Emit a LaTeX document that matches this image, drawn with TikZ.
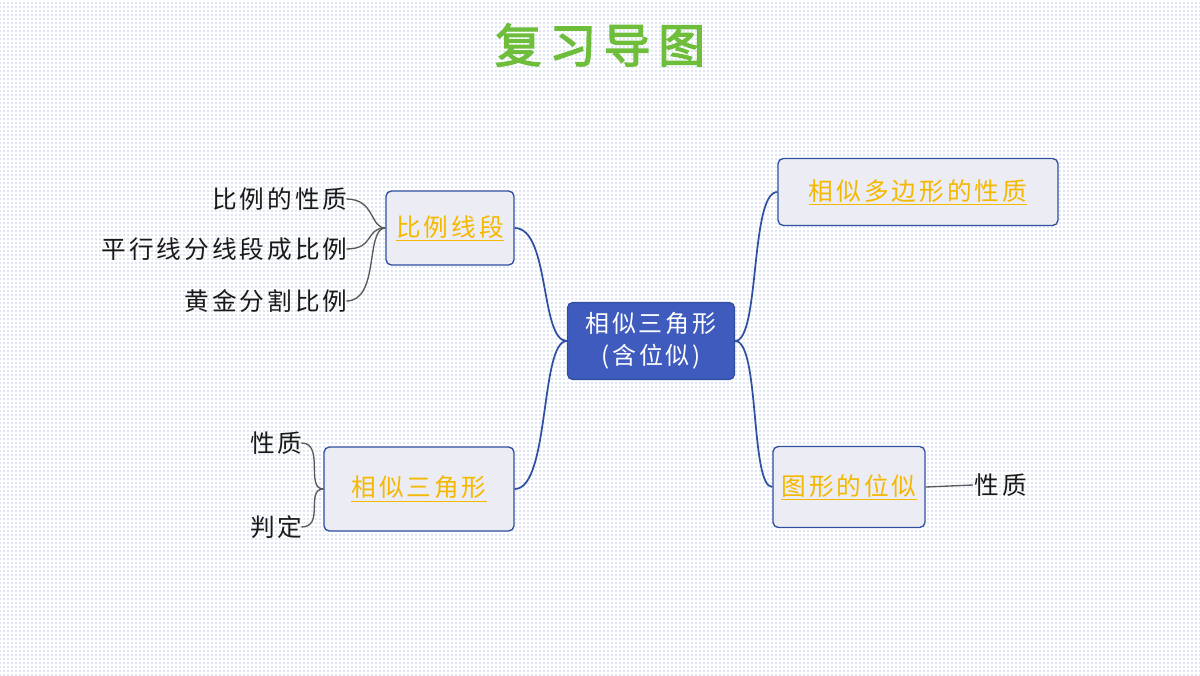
\documentclass[tikz,border=0pt]{standalone}
\usepackage{fontspec}
\setmainfont{Noto Sans CJK SC}[AutoFakeBold=3,LetterSpace=12]
\usetikzlibrary{patterns}
\definecolor{boxfill}{RGB}{236,236,244}
\definecolor{boxline}{RGB}{47,79,160}
\definecolor{mainfill}{RGB}{63,91,190}
\definecolor{topicc}{RGB}{245,184,0}
\definecolor{titlec}{RGB}{110,190,60}
\definecolor{dotc}{RGB}{120,140,205}
\tikzset{
  topic/.style={draw=boxline,fill=boxfill,rounded corners=4,line width=1pt,
    font=\fontsize{18.5}{22}\selectfont,text=topicc,inner sep=0},
  leaf/.style={font=\fontsize{18.5}{22}\selectfont,text=black!90,inner sep=1},
  mainlink/.style={draw=boxline,line width=1.3pt},
  leaflink/.style={draw=black!65,line width=1pt},
}
\begin{document}
\begin{tikzpicture}[x=0.75pt,y=0.75pt,yscale=-1,xscale=1]
\fill[white] (0,0) rectangle (1200,675);
\fill[pattern=dots,pattern color=dotc] (0,0) rectangle (1200,675);
\useasboundingbox (0,0) rectangle (1200,675);

%title
\node (title) at (600,45) {\fontsize{35}{38}\selectfont\bfseries\color{titlec}复\,习\,导\,图};

%center
\node[draw=boxline,fill=mainfill,rounded corners=4,line width=1pt,text=white,
  minimum width=167*0.75pt,minimum height=77*0.75pt,align=center,
  font=\fontsize{18}{24}\selectfont,inner sep=0] (main) at (651,341) {相似三角形\\(含位似)};

%topics
\node[topic,minimum width=128*0.75pt,minimum height=74*0.75pt] (bili) at (450,228) {\underline{比例线段}};
\node[topic,minimum width=190*0.75pt,minimum height=84*0.75pt] (xs) at (419,489) {\underline{相似三角形}};
\node[topic,minimum width=280*0.75pt,minimum height=67*0.75pt] (dbx) at (918,192) {\underline{相似多边形的性质}};
\node[topic,minimum width=152*0.75pt,minimum height=81*0.75pt] (wei) at (849,487) {\underline{图形的位似}};

%leaves
\node[leaf,anchor=east] (l1) at (349,199) {比例的性质};
\node[leaf,anchor=east] (l2) at (349,249) {平行线分线段成比例};
\node[leaf,anchor=east] (l3) at (349,301) {黄金分割比例};
\node[leaf,anchor=east] (l4) at (304,443) {性质};
\node[leaf,anchor=east] (l5) at (304,527) {判定};
\node[leaf,anchor=west] (l6) at (973,485) {性质};

%links
\draw[mainlink] (main.west) .. controls (540,341) and (550,228) .. (bili.east);
\draw[mainlink] (main.west) .. controls (540,341) and (550,489) .. (xs.east);
\draw[mainlink] (main.east) .. controls (760,341) and (750,192) .. (dbx.west);
\draw[mainlink] (main.east) .. controls (760,341) and (750,487) .. (wei.west);
\draw[leaflink] ([xshift=-2pt]l1.east) .. controls (375,199) and (370,228) .. (bili.west);
\draw[leaflink] ([xshift=-2pt]l2.east) .. controls (375,249) and (365,228) .. (bili.west);
\draw[leaflink] ([xshift=-2pt]l3.east) .. controls (380,301) and (365,228) .. (bili.west);
\draw[leaflink] ([xshift=-2pt]l4.east) .. controls (325,443) and (305,489) .. (xs.west);
\draw[leaflink] ([xshift=-2pt]l5.east) .. controls (325,527) and (305,489) .. (xs.west);
\draw[leaflink] (wei.east) -- (l6.west);
\end{tikzpicture}
\end{document}
